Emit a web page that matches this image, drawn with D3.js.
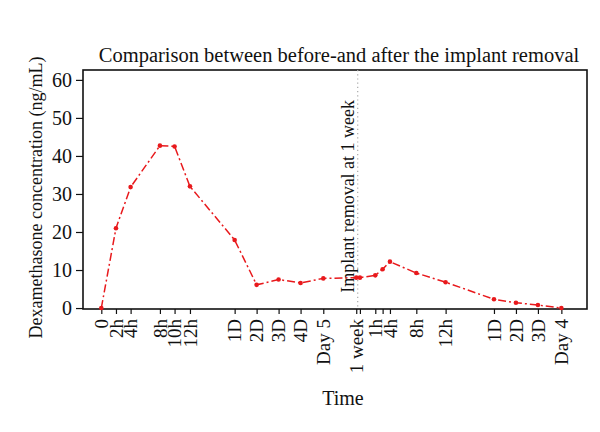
<!DOCTYPE html>
<html><head><meta charset="utf-8">
<script src="https://cdn.jsdelivr.net/npm/d3@7"></script>
<style>body{margin:0;background:#fff}text{font-family:"Liberation Serif","DejaVu Serif",serif;fill:#111}</style>
</head><body><svg id="c" width="600" height="432"></svg>
<script>
// time axis positions (axis units) and tick labels
const xPos   = [0, 1, 2, 4, 5, 6.05, 9.1, 10.6, 12.1, 13.6, 15.15, 17.4, 17.65, 18.7, 19.2, 19.7, 21.5, 23.5, 26.8, 28.3, 29.8, 31.4];
const xLabels= ["0","2h","4h","8h","10h","12h","1D","2D","3D","4D","Day 5","1 week","","1h","","4h","8h","12h","1D","2D","3D","Day 4"];
const concentration = [0, 21.0, 31.8, 42.7, 42.5, 32.0, 17.9, 6.1, 7.5, 6.6, 7.8, 8.0, 8.0, 8.6, 10.2, 12.2, 9.2, 6.8, 2.3, 1.4, 0.8, 0];
const yTicks = [0, 10, 20, 30, 40, 50, 60];
const removalAt = 17.5;

const W = 600, H = 432, m = {l:83, t:70, r:13, b:123};
const svg = d3.select("#c");
const x = d3.scaleLinear().domain([-1.25, 33.15]).range([m.l, W - m.r]);
const y = d3.scaleLinear().domain([-0.25, 62.6]).range([H - m.b, m.t]);

// y axis
const ya = svg.append("g").attr("transform", `translate(${m.l},0)`)
  .call(d3.axisLeft(y).tickValues(yTicks).tickSize(7).tickPadding(4));
ya.select(".domain").remove();
ya.selectAll("line").attr("stroke", "#111").attr("stroke-width", 1.2);
ya.selectAll("text").style("font-size", "20px").style("font-family", '"Liberation Serif",serif');

// x axis
const xa = svg.append("g").attr("transform", `translate(0,${H - m.b})`)
  .call(d3.axisBottom(x).tickValues(xPos).tickFormat((d, i) => xLabels[i]).tickSize(5));
xa.select(".domain").remove();
xa.selectAll("line").attr("stroke", "#111").attr("stroke-width", 1.2);
xa.selectAll("text").style("font-size", "19px").style("font-family", '"Liberation Serif",serif')
  .attr("text-anchor", "end").attr("transform", "rotate(-90)")
  .attr("x", -10).attr("y", 0).attr("dy", "0.33em");

// frame
svg.append("rect").attr("x", m.l).attr("y", m.t).attr("width", W - m.l - m.r).attr("height", H - m.t - m.b)
  .attr("fill", "none").attr("stroke", "#111").attr("stroke-width", 1.6);

// removal marker
svg.append("line").attr("x1", x(removalAt)).attr("x2", x(removalAt)).attr("y1", m.t).attr("y2", H - m.b)
  .attr("stroke", "#aaa").attr("stroke-width", 1.2).attr("stroke-dasharray", "1.2,3");
svg.append("text").attr("transform", `translate(${x(removalAt) - 4},${y(4)}) rotate(-90)`)
  .style("font-size", "18px").text("Implant removal at 1 week");

// data line
const pts = xPos.map((d, i) => [d, concentration[i]]);
svg.append("path").datum(pts)
  .attr("d", d3.line().x(d => x(d[0])).y(d => y(d[1])))
  .attr("fill", "none").attr("stroke", "#e8191c").attr("stroke-width", 1.5)
  .attr("stroke-dasharray", "8,3,2,3");
svg.selectAll("circle.pt").data(pts).enter().append("circle")
  .attr("cx", d => x(d[0])).attr("cy", d => y(d[1])).attr("r", 2.3).attr("fill", "#e8191c");

// titles
svg.append("text").attr("x", 339).attr("y", 62).attr("text-anchor", "middle")
  .style("font-size", "20.5px").text("Comparison between before-and after the implant removal");
svg.append("text").attr("x", 343).attr("y", 405).attr("text-anchor", "middle")
  .style("font-size", "20px").text("Time");
svg.append("text").attr("transform", `translate(42,${(m.t + H - m.b) / 2 + 8}) rotate(-90)`)
  .attr("text-anchor", "middle").style("font-size", "18px").text("Dexamethasone concentration (ng/mL)");
</script></body></html>
